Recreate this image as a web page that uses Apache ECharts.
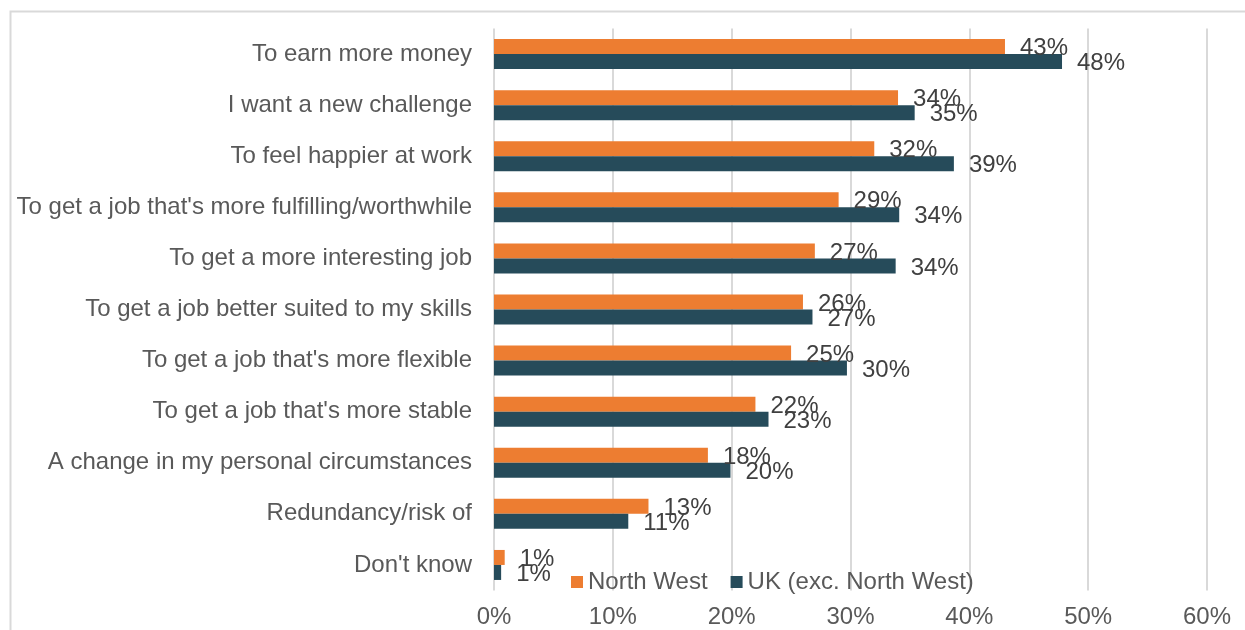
<!DOCTYPE html>
<html>
<head>
<meta charset="utf-8">
<script src="https://cdn.jsdelivr.net/npm/echarts@6/dist/echarts.min.js"></script>
<style>
  html, body { margin: 0; padding: 0; background: #fff; }
  #chart { width: 1245px; height: 630px; }
</style>
</head>
<body>
<div id="chart"></div>
<script>
// Reasons, top to bottom
const categories = [
  'To earn more money',
  'I want a new challenge',
  'To feel happier at work',
  "To get a job that's more fulfilling/worthwhile",
  'To get a more interesting job',
  'To get a job better suited to my skills',
  "To get a job that's more flexible",
  "To get a job that's more stable",
  'A change in my personal circumstances',
  'Redundancy/risk of',
  "Don't know"
]

// shares (%)
const northWest = [43.0, 34.0, 32.0, 29.0, 27.0, 26.0, 25.0, 22.0, 18.0, 13.0, 0.9]
const ukExcNorthWest = [47.8, 35.4, 38.7, 34.1, 33.8, 26.8, 29.7, 23.1, 19.9, 11.3, 0.6]

const xTicks = [0, 10, 20, 30, 40, 50, 60]

const font = 'Liberation Sans, Arial, sans-serif'
const ORANGE = '#ED7D31'
const TEAL = '#264B5A'
const FS = 24

const chart = echarts.init(document.getElementById('chart'), null, { renderer: 'canvas' })

const labelStyle = {
  show: true,
  position: 'right',
  distance: 15,
  offset: [0, 2],
  fontSize: FS,
  fontFamily: font,
  color: '#404040',
  formatter: p => Math.round(p.value) + '%'
}

chart.setOption({
  animation: false,
  textStyle: { fontFamily: font },
  graphic: [
    {
      type: 'rect',
      shape: { x: 10.5, y: 11.5, width: 1400, height: 800 },
      style: { fill: 'none', stroke: '#d9d9d9', lineWidth: 2 },
      silent: true
    }
  ],
  legend: {
    left: 571,
    top: 570,
    padding: 0,
    itemWidth: 12,
    itemHeight: 12,
    itemGap: 23,
    icon: 'rect',
    textStyle: { fontSize: FS, color: '#595959', fontFamily: font },
    data: ['North West', 'UK (exc. North West)']
  },
  grid: {
    left: 494,
    right: 38,
    top: 28.5,
    bottom: 39.5
  },
  xAxis: {
    type: 'value',
    min: xTicks[0],
    max: xTicks[xTicks.length - 1],
    interval: 10,
    axisLine: { show: false },
    axisTick: { show: false },
    axisLabel: {
      fontSize: FS,
      color: '#595959',
      fontFamily: font,
      margin: 15,
      formatter: v => v + '%'
    },
    splitLine: { lineStyle: { color: '#d9d9d9', width: 2 } }
  },
  yAxis: {
    type: 'category',
    inverse: true,
    data: categories,
    axisLine: { show: false },
    axisTick: { show: false },
    axisLabel: {
      fontSize: FS,
      color: '#595959',
      fontFamily: font,
      margin: 22
    }
  },
  series: [
    {
      name: 'North West',
      type: 'bar',
      data: northWest,
      barWidth: 15,
      barGap: '0%',
      itemStyle: { color: ORANGE },
      label: labelStyle
    },
    {
      name: 'UK (exc. North West)',
      type: 'bar',
      data: ukExcNorthWest,
      barWidth: 15,
      barGap: '0%',
      itemStyle: { color: TEAL },
      label: labelStyle
    }
  ]
})

window.addEventListener('resize', () => chart.resize())
</script>
</body>
</html>
